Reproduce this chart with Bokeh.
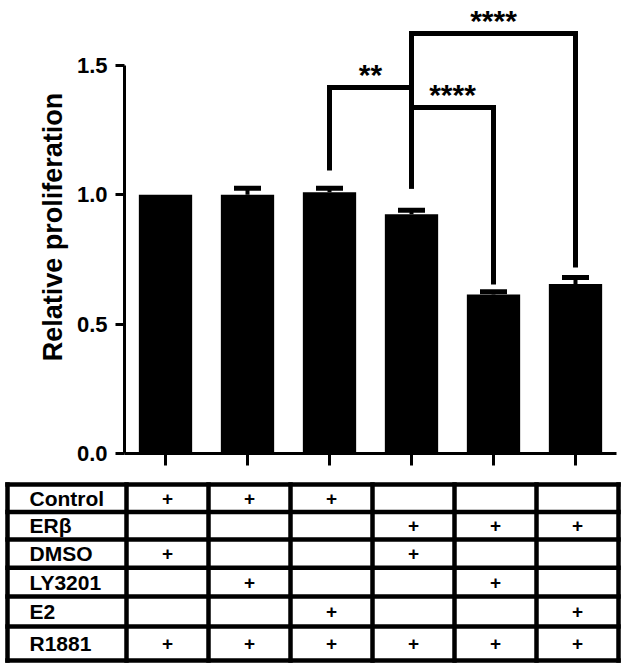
import numpy as np
from bokeh.plotting import figure
from bokeh.models import (ColumnDataSource, Range1d, FixedTicker, PrintfTickFormatter,
                          Whisker, TeeHead)
from bokeh.embed import file_html
from bokeh.resources import INLINE
from bokeh.core.properties import value

# ---------------- data ----------------
groups = [1, 2, 3, 4, 5, 6]
proliferation = [1.00, 1.00, 1.01, 0.925, 0.615, 0.655]
sem = [0.0, 0.025, 0.015, 0.015, 0.01, 0.025]
yticks = [0.0, 0.5, 1.0, 1.5]

# significance comparisons (bar index left/right, bracket level, leg feet, label)
cmp_left = [3, 4, 4]
cmp_right = [4, 5, 6]
cmp_height = [1.415, 1.337, 1.623]
cmp_left_foot = [1.094, 1.024, 1.024]
cmp_right_foot = [1.024, 0.653, 0.719]
cmp_label = ["**", "****", "****"]

# treatment table
treatments = ["Control", "ERβ", "DMSO", "LY3201", "E2", "R1881"]
treatment_marks = [
    [1, 1, 1, 0, 0, 0],
    [0, 0, 0, 1, 1, 1],
    [1, 0, 0, 1, 0, 0],
    [0, 1, 0, 0, 1, 0],
    [0, 0, 1, 0, 0, 1],
    [1, 1, 1, 1, 1, 1],
]

# ---------------- style ----------------
FONT = "Liberation Sans"
W = 625
H1 = 476
H2 = 193
LEFT = 124
RIGHT = 9
PX = (W - LEFT - RIGHT) / len(groups)   # px per group slot

# ---------------- chart ----------------
p = figure(width=W, height=H1, output_backend="svg", toolbar_location=None,
           x_range=Range1d(0.5, len(groups) + 0.5), y_range=Range1d(0, 1.751),
           min_border_left=LEFT, min_border_right=RIGHT, min_border_top=0,
           min_border_bottom=H1 - 453)
p.outline_line_color = None
p.xgrid.grid_line_color = None
p.ygrid.grid_line_color = None
p.background_fill_color = "white"
p.border_fill_color = "white"

p.vbar(x=groups, top=proliferation, width=0.65, fill_color="black", line_color=None)

err_x = [g for g, e in zip(groups, sem) if e > 0]
err_top = [v for v, e in zip(proliferation, sem) if e > 0]
err_up = [v + e for v, e in zip(proliferation, sem) if e > 0]
esrc = ColumnDataSource(dict(x=err_x, top=err_top, up=err_up))
p.add_layout(Whisker(source=esrc, base="x", upper="up", lower="top", dimension="height",
                     line_color="black", line_width=4,
                     upper_head=TeeHead(size=27, line_width=5, line_color="black"),
                     lower_head=None, level="overlay"))

bx, by = [], []
for l, r, h, lf, rf in zip(cmp_left, cmp_right, cmp_height, cmp_left_foot, cmp_right_foot):
    bx.append([l, l, r, r])
    by.append([lf, h, h, rf])
p.multi_line(xs=bx, ys=by, line_color="black", line_width=5, line_join="miter",
             line_cap="butt")
p.text(x=[(l + r) / 2 for l, r in zip(cmp_left, cmp_right)], y=cmp_height, text=cmp_label,
       text_font=value(FONT), text_font_style="bold", text_font_size="30px",
       text_align="center", text_baseline="alphabetic", y_offset=-13, text_color="black")

# axes
p.yaxis.ticker = FixedTicker(ticks=yticks)
p.yaxis.formatter = PrintfTickFormatter(format="%.1f")
p.yaxis.bounds = (0, 1.5)
p.yaxis.axis_line_width = 3
p.yaxis.axis_line_color = "black"
p.yaxis.major_tick_line_width = 3
p.yaxis.major_tick_line_color = "black"
p.yaxis.major_tick_out = 9
p.yaxis.major_tick_in = 0
p.yaxis.minor_tick_line_color = None
p.yaxis.major_label_text_font = FONT
p.yaxis.major_label_text_font_size = "22px"
p.yaxis.major_label_text_font_style = "bold"
p.yaxis.major_label_text_color = "black"
p.yaxis.major_label_standoff = 8
p.yaxis.axis_label = "Relative proliferation"
p.yaxis.axis_label_text_font = FONT
p.yaxis.axis_label_text_font_size = "27px"
p.yaxis.axis_label_text_font_style = "bold"
p.yaxis.axis_label_text_color = "black"
p.yaxis.axis_label_standoff = 6

p.xaxis.ticker = FixedTicker(ticks=groups)
p.xaxis.major_label_overrides = {g: "" for g in groups}
p.xaxis.major_label_text_font_size = "8px"
p.xaxis.major_label_standoff = 0
p.xaxis.axis_line_width = 3
p.xaxis.axis_line_color = "black"
p.xaxis.major_tick_line_width = 3
p.xaxis.major_tick_line_color = "black"
p.xaxis.major_tick_out = 12
p.xaxis.major_tick_in = 0
p.xaxis.minor_tick_line_color = None

# ---------------- table ----------------
TOP_PAD, BOT_PAD = 8, 9
row_h = [1, 1, 1.02, 1.05, 1.09, 1.23]
bounds = np.concatenate([[0], np.cumsum(row_h)])
unit_px = (H2 - TOP_PAD - BOT_PAD) / bounds[-1]
x_start = 0.5 - LEFT / PX
x_end = len(groups) + 0.5 + RIGHT / PX
shift = 2 / PX
table_left = x_start + 7 / PX
label_x = x_start + 29 / PX

t = figure(width=W, height=H2, output_backend="svg", toolbar_location=None,
           x_range=Range1d(x_start, x_end),
           y_range=Range1d((H2 - TOP_PAD) / unit_px, -TOP_PAD / unit_px),
           min_border=0, x_axis_type=None, y_axis_type=None)
t.outline_line_color = None
t.xgrid.grid_line_color = None
t.ygrid.grid_line_color = None
t.background_fill_color = "white"
t.border_fill_color = "white"

x_right = len(groups) + 0.5 + shift
vx = [table_left] + [g - 0.5 + shift for g in groups] + [x_right]
t.segment(x0=[table_left] * len(bounds), x1=[x_right] * len(bounds),
          y0=list(bounds), y1=list(bounds), line_color="black", line_width=4.5,
          line_cap="square")
t.segment(x0=vx, x1=vx, y0=[0] * len(vx), y1=[bounds[-1]] * len(vx),
          line_color="black", line_width=4.5, line_cap="square")

centers = [(bounds[i] + bounds[i + 1]) / 2 for i in range(len(treatments))]
t.text(x=[label_x] * len(treatments), y=centers, text=treatments,
       text_font=value(FONT), text_font_style="bold", text_font_size="21px",
       text_align="left", text_baseline="middle", text_color="black")

px_, py_ = [], []
for r, row in enumerate(treatment_marks):
    for c, m in enumerate(row):
        if m:
            px_.append(groups[c])
            py_.append(centers[r])
t.text(x=px_, y=py_, text=["+"] * len(px_), text_font=value(FONT), text_font_style="bold",
       text_font_size="19px", text_align="center", text_baseline="middle",
       text_color="black", x_offset=2)

open("out.html", "w").write(file_html([p, t], INLINE))
